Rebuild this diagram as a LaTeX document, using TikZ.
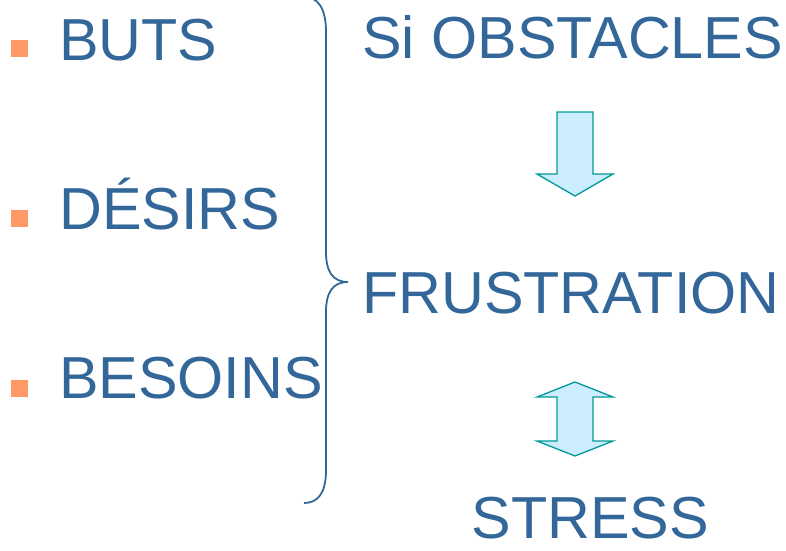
\documentclass[tikz,border=0pt]{standalone}
\usepackage{fontspec}
\setmainfont{Liberation Sans}
\definecolor{textblue}{HTML}{336699}
\definecolor{bulletorange}{HTML}{FF9966}
\definecolor{arrowfill}{HTML}{CCECFF}
\definecolor{arrowline}{HTML}{009999}
\begin{document}
\begin{tikzpicture}[x=1pt,y=-1pt] % схема: цели -> препятствия -> фрустрация <-> стресс
\tikzstyle{myword} = [anchor=base west, inner sep=0pt, text=textblue, font=\fontsize{59.3}{70}\selectfont] % word style
\tikzstyle{mybullet} = [rectangle, fill=bulletorange, minimum size=17pt, inner sep=0pt] % bullet style
\tikzstyle{myarrow} = [fill=arrowfill, draw=arrowline, line width=1.3pt, line join=miter] % block arrow style
\tikzstyle{mybrace} = [draw=textblue, line width=1.8pt] % фигурная скобка
\useasboundingbox (0,0) rectangle (786,550);
% левый столбец
\node[mybullet] (b1) at (19.5,48.5) {};
\node[mybullet] (b2) at (19.5,218) {};
\node[mybullet] (b3) at (19.5,388.5) {};
\node[myword] (buts) at (59,60) {BUTS};
\node[myword] (desirs) at (59,229) {DÉSIRS};
\node[myword] (besoins) at (59,398) {BESOINS};
% скобка
\draw[mybrace] (304,-3) .. controls (318,-3) and (326,8) .. (326,32)
  -- (326,252) .. controls (326,272) and (333,282) .. (348,282)
  .. controls (333,282) and (326,292) .. (326,312)
  -- (326,470) .. controls (326,493) and (318,503) .. (304,503);
% правый столбец
\node[myword] (obst) at (362,58) {Si OBSTACLES};
\node[myword] (frust) at (362,313) {FRUSTRATION};
\node[myword] (stress) at (471.5,538) {STRESS};
% стрелки
\coordinate (a1) at (575,112);
\coordinate (a2) at (575,382);
\draw[myarrow] (a1) ++(-18,0) -- ++(36,0) -- ++(0,62) -- ++(20,0) -- ++(-38,22)
  -- ++(-38,-22) -- ++(20,0) -- cycle;
\draw[myarrow] (a2) -- ++(38,15) -- ++(-20,0) -- ++(0,44) -- ++(20,0) -- ++(-38,15)
  -- ++(-38,-15) -- ++(20,0) -- ++(0,-44) -- ++(-20,0) -- cycle;
\end{tikzpicture}
\end{document}
